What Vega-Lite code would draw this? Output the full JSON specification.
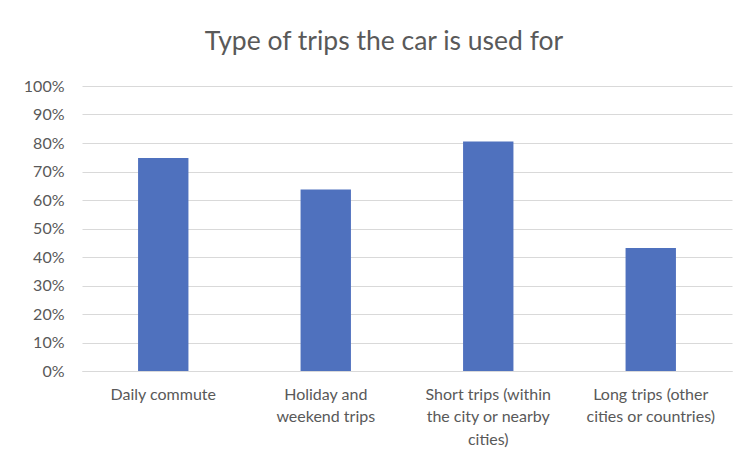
{
  "$schema": "https://vega.github.io/schema/vega-lite/v6.json",
  "width": 650,
  "height": 285,
  "autosize": "none",
  "padding": {"left": 82, "top": 86, "right": 9, "bottom": 85},
  "background": "white",
  "title": {
    "text": "Type of trips the car is used for",
    "font": "Lato",
    "fontSize": 26.5,
    "fontWeight": "normal",
    "color": "#595959",
    "anchor": "middle",
    "baseline": "alphabetic",
    "offset": 2,
    "dx": -23
  },
  "data": {
    "values": [
      {"trip": "Daily commute", "share": 0.747},
      {"trip": "Holiday and\nweekend trips", "share": 0.637},
      {"trip": "Short trips (within\nthe city or nearby\ncities)", "share": 0.805},
      {"trip": "Long trips (other\ncities or countries)", "share": 0.432}
    ]
  },
  "mark": {"type": "bar", "color": "#4F71BE"},
  "encoding": {
    "x": {
      "field": "trip",
      "type": "nominal",
      "sort": null,
      "scale": {"paddingInner": 0.69, "paddingOuter": 0.345},
      "axis": {
        "title": null,
        "labelAngle": 0,
        "labelExpr": "split(datum.label, '\\n')",
        "labelFont": "Lato",
        "labelFontSize": 16,
        "labelColor": "#595959",
        "labelLineHeight": 22.5,
        "labelBaseline": "top",
        "labelPadding": 15,
        "labelLimit": 200,
        "ticks": false,
        "domainColor": "#d9d9d9",
        "domainWidth": 1
      }
    },
    "y": {
      "field": "share",
      "type": "quantitative",
      "scale": {"domain": [0, 1], "nice": false},
      "axis": {
        "title": null,
        "values": [0, 0.1, 0.2, 0.3, 0.4, 0.5, 0.6, 0.7, 0.8, 0.9, 1],
        "format": ".0%",
        "labelFont": "Lato",
        "labelFontSize": 16,
        "labelColor": "#595959",
        "labelPadding": 18,
        "ticks": false,
        "domain": false,
        "gridColor": "#d9d9d9",
        "gridWidth": 1
      }
    }
  },
  "config": {"view": {"stroke": null}}
}
